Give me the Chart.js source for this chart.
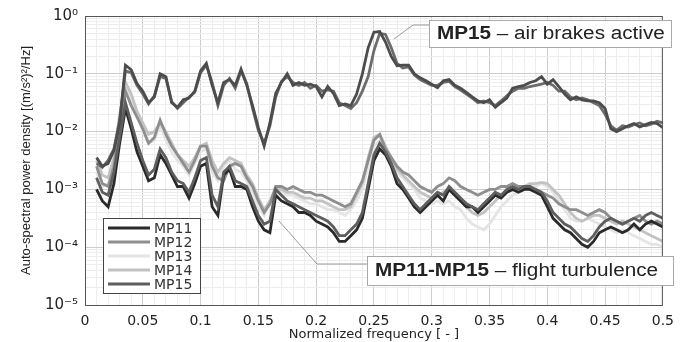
<!DOCTYPE html>
<html>
<head>
<meta charset="utf-8">
<script src="https://cdn.jsdelivr.net/npm/chart.js@4.4.1/dist/chart.umd.min.js"></script>
<style>
  html, body { margin: 0; padding: 0; background: #fff; }
  #wrap { width: 682px; height: 342px; position: relative; }
</style>
</head>
<body>
<div id="wrap"><canvas id="psdChart"></canvas></div>
<script>
// normalized frequency of every sample
const freq = [
  0.010,0.015,0.020,0.025,0.030,0.035,0.040,0.045,0.050,0.055,
  0.060,0.065,0.070,0.075,0.080,0.085,0.090,0.095,0.100,0.105,
  0.110,0.115,0.120,0.125,0.130,0.135,0.140,0.145,0.150,0.155,
  0.160,0.165,0.170,0.175,0.180,0.185,0.190,0.195,0.200,0.205,
  0.210,0.215,0.220,0.225,0.230,0.235,0.240,0.245,0.250,0.255,
  0.260,0.265,0.270,0.275,0.280,0.285,0.290,0.295,0.300,0.305,
  0.310,0.315,0.320,0.325,0.330,0.335,0.340,0.345,0.350,0.355,
  0.360,0.365,0.370,0.375,0.380,0.385,0.390,0.395,0.400,0.405,
  0.410,0.415,0.420,0.425,0.430,0.435,0.440,0.445,0.450,0.455,
  0.460,0.465,0.470,0.475,0.480,0.485,0.490,0.495,0.500
];

// PSD values as log10 exponents
const mp15BrakesLog = [
  -2.45,-2.6,-2.55,-2.33,-1.85,-0.85,-0.93,-1.17,-1.3,-1.5,
  -1.4,-1.0,-1.05,-1.5,-1.58,-1.45,-1.42,-1.3,-0.95,-0.82,
  -1.2,-1.5,-1.15,-1.1,-1.2,-0.92,-1.2,-1.55,-1.93,-2.25,
  -1.85,-1.34,-1.15,-1.0,-1.2,-1.15,-1.2,-1.18,-1.22,-1.4,
  -1.22,-1.34,-1.55,-1.52,-1.55,-1.35,-1.0,-0.55,-0.28,-0.27,
  -0.45,-0.7,-0.86,-0.85,-0.85,-1.0,-1.07,-1.12,-1.18,-1.24,
  -1.12,-1.1,-1.2,-1.25,-1.32,-1.4,-1.47,-1.5,-1.45,-1.58,
  -1.5,-1.42,-1.25,-1.22,-1.2,-1.15,-1.12,-1.05,-1.18,-1.1,
  -1.22,-1.35,-1.45,-1.4,-1.45,-1.47,-1.47,-1.5,-1.6,-1.95,
  -2.0,-1.95,-1.9,-1.86,-1.92,-1.88,-1.84,-1.86,-1.93
];
const mp15BrakesRunBLog = [
  -2.55,-2.62,-2.5,-2.3,-1.8,-0.95,-0.98,-1.2,-1.35,-1.52,
  -1.38,-1.05,-1.08,-1.48,-1.6,-1.5,-1.4,-1.32,-0.98,-0.85,
  -1.15,-1.55,-1.2,-1.08,-1.25,-0.95,-1.17,-1.6,-1.98,-2.2,
  -1.9,-1.4,-1.13,-1.05,-1.15,-1.2,-1.15,-1.25,-1.2,-1.3,
  -1.28,-1.3,-1.5,-1.55,-1.6,-1.5,-1.3,-1.05,-0.6,-0.3,
  -0.32,-0.55,-0.82,-0.9,-0.88,-1.02,-1.1,-1.15,-1.2,-1.2,
  -1.15,-1.13,-1.22,-1.28,-1.35,-1.42,-1.5,-1.47,-1.5,-1.55,
  -1.47,-1.38,-1.3,-1.25,-1.25,-1.22,-1.2,-1.18,-1.15,-1.2,
  -1.3,-1.3,-1.4,-1.45,-1.42,-1.45,-1.5,-1.55,-1.7,-1.9,
  -1.98,-1.9,-1.92,-1.88,-1.85,-1.9,-1.87,-1.82,-1.85
];
const mp11Log = [
  -3.0,-3.2,-3.3,-2.9,-2.2,-1.6,-1.95,-2.35,-2.6,-2.85,
  -2.8,-2.4,-2.55,-2.75,-2.95,-2.95,-3.15,-2.9,-2.6,-2.55,
  -3.3,-3.45,-2.75,-2.65,-2.95,-2.95,-3.0,-3.3,-3.55,-3.7,
  -3.75,-3.1,-3.2,-3.25,-3.3,-3.4,-3.4,-3.45,-3.55,-3.6,
  -3.65,-3.75,-3.9,-3.9,-3.8,-3.7,-3.5,-3.0,-2.5,-2.3,
  -2.4,-2.6,-2.9,-3.0,-3.15,-3.3,-3.4,-3.3,-3.2,-3.1,
  -3.2,-3.0,-3.1,-3.2,-3.3,-3.3,-3.4,-3.3,-3.2,-3.1,
  -3.15,-3.05,-3.0,-3.05,-3.0,-3.0,-3.05,-3.1,-3.3,-3.5,
  -3.6,-3.7,-3.75,-3.85,-3.95,-4.0,-3.9,-3.75,-3.7,-3.65,
  -3.7,-3.75,-3.7,-3.6,-3.7,-3.6,-3.55,-3.6,-3.65
];
const mp12Log = [
  -2.6,-2.9,-2.95,-2.6,-1.9,-1.3,-1.55,-1.75,-1.95,-2.2,
  -2.1,-1.8,-2.05,-2.25,-2.4,-2.55,-2.7,-2.5,-2.25,-2.25,
  -2.6,-2.8,-2.85,-2.6,-2.55,-2.6,-2.8,-2.95,-3.2,-3.4,
  -3.25,-2.95,-2.95,-3.0,-2.95,-3.0,-3.05,-3.05,-3.1,-3.1,
  -3.15,-3.2,-3.25,-3.3,-3.25,-3.05,-2.85,-2.5,-2.15,-2.05,
  -2.3,-2.45,-2.6,-2.7,-2.75,-2.85,-2.95,-3.0,-3.05,-2.95,
  -2.9,-2.8,-2.85,-2.95,-3.0,-3.05,-3.1,-3.05,-3.0,-3.0,
  -2.95,-2.95,-2.9,-2.95,-2.95,-3.0,-3.0,-3.05,-3.1,-3.15,
  -3.25,-3.3,-3.35,-3.35,-3.4,-3.45,-3.4,-3.35,-3.4,-3.5,
  -3.55,-3.6,-3.55,-3.5,-3.45,-3.55,-3.6,-3.55,-3.6
];
const mp13Log = [
  -2.7,-2.95,-2.9,-2.55,-1.8,-1.25,-1.45,-1.7,-2.0,-2.2,
  -2.15,-1.9,-2.15,-2.35,-2.5,-2.6,-2.75,-2.55,-2.35,-2.3,
  -2.7,-2.85,-2.6,-2.5,-2.65,-2.7,-2.85,-3.05,-3.3,-3.45,
  -3.2,-3.05,-3.05,-3.1,-3.1,-3.15,-3.2,-3.25,-3.25,-3.3,
  -3.35,-3.35,-3.4,-3.45,-3.35,-3.2,-3.0,-2.6,-2.25,-2.15,
  -2.35,-2.55,-2.7,-2.8,-2.9,-3.0,-3.15,-3.2,-3.25,-3.2,
  -3.25,-3.2,-3.3,-3.35,-3.5,-3.6,-3.65,-3.7,-3.6,-3.45,
  -3.3,-3.2,-3.1,-3.05,-3.0,-2.95,-2.95,-2.9,-2.95,-3.05,
  -3.2,-3.35,-3.5,-3.55,-3.55,-3.5,-3.55,-3.6,-3.65,-3.7,
  -3.75,-3.7,-3.75,-3.8,-3.85,-3.9,-3.95,-3.95,-4.0
];
const mp14Log = [
  -2.5,-2.75,-2.8,-2.45,-1.7,-1.15,-1.35,-1.65,-1.85,-2.05,
  -2.0,-1.85,-2.0,-2.2,-2.4,-2.5,-2.6,-2.45,-2.25,-2.2,
  -2.5,-2.7,-2.55,-2.45,-2.5,-2.55,-2.75,-2.9,-3.15,-3.35,
  -3.2,-3.0,-3.0,-3.05,-3.05,-3.1,-3.15,-3.15,-3.2,-3.2,
  -3.25,-3.3,-3.35,-3.35,-3.3,-3.1,-2.9,-2.45,-2.1,-2.05,
  -2.25,-2.45,-2.65,-2.75,-2.85,-2.95,-3.05,-3.1,-3.15,-3.1,
  -3.05,-3.0,-3.1,-3.2,-3.3,-3.4,-3.45,-3.4,-3.3,-3.2,
  -3.1,-3.05,-3.0,-2.95,-2.95,-2.9,-2.9,-2.88,-2.9,-3.0,
  -3.1,-3.25,-3.4,-3.5,-3.55,-3.5,-3.45,-3.45,-3.5,-3.55,
  -3.6,-3.55,-3.6,-3.65,-3.7,-3.75,-3.8,-3.85,-3.9
];
const mp15Log = [
  -2.8,-3.05,-3.1,-2.7,-2.1,-1.5,-1.85,-2.2,-2.5,-2.75,
  -2.65,-2.3,-2.45,-2.7,-2.85,-2.9,-3.05,-2.8,-2.5,-2.45,
  -3.1,-3.3,-2.7,-2.6,-2.85,-2.9,-2.95,-3.2,-3.45,-3.6,
  -3.55,-3.0,-3.1,-3.2,-3.25,-3.3,-3.35,-3.4,-3.45,-3.5,
  -3.55,-3.65,-3.8,-3.8,-3.7,-3.6,-3.4,-2.9,-2.4,-2.2,
  -2.35,-2.55,-2.8,-2.95,-3.1,-3.25,-3.35,-3.25,-3.15,-3.05,
  -3.1,-2.95,-3.05,-3.15,-3.25,-3.3,-3.35,-3.25,-3.15,-3.05,
  -3.1,-3.0,-2.95,-3.0,-2.95,-2.95,-3.0,-3.05,-3.2,-3.4,
  -3.5,-3.6,-3.65,-3.75,-3.85,-3.9,-3.8,-3.65,-3.55,-3.5,
  -3.55,-3.6,-3.55,-3.5,-3.55,-3.45,-3.4,-3.45,-3.5
];

const seriesNames = ['MP11', 'MP12', 'MP13', 'MP14', 'MP15'];
const xTickValues = [0, 0.05, 0.1, 0.15, 0.2, 0.25, 0.3, 0.35, 0.4, 0.45, 0.5];
const xTickLabels = ['0', '0.05', '0.1', '0.15', '0.2', '0.25', '0.3', '0.35', '0.4', '0.45', '0.5'];
const yDecades = [1e-5, 1e-4, 1e-3, 1e-2, 1e-1, 1];
const yTickLabels = ['10\u207B\u2075', '10\u207B\u2074', '10\u207B\u00B3', '10\u207B\u00B2', '10\u207B\u00B9', '10\u2070'];

const toPoints = (logs) => logs.map((v, i) => ({ x: freq[i], y: Math.pow(10, v) }));

const lineDefaults = { borderWidth: 2.8, pointRadius: 0, tension: 0, fill: false };

const datasets = [
  { label: 'MP15 brakes', data: toPoints(mp15BrakesLog), borderColor: '#4c4c4c', ...lineDefaults },
  { label: 'MP15 brakes b', data: toPoints(mp15BrakesRunBLog), borderColor: '#6c6c6c', ...lineDefaults },
  { label: 'MP15', data: toPoints(mp15Log), borderColor: '#5e5e5e', ...lineDefaults },
  { label: 'MP11', data: toPoints(mp11Log), borderColor: '#2a2a2a', ...lineDefaults },
  { label: 'MP12', data: toPoints(mp12Log), borderColor: '#8e8e8e', ...lineDefaults },
  { label: 'MP14', data: toPoints(mp14Log), borderColor: '#c2c2c2', ...lineDefaults },
  { label: 'MP13', data: toPoints(mp13Log), borderColor: '#e4e4e4', ...lineDefaults },
];
const legendColors = { MP11: '#2a2a2a', MP12: '#8e8e8e', MP13: '#e4e4e4', MP14: '#c2c2c2', MP15: '#5e5e5e' };

// box around the plot, legend and the two callouts
const decorations = {
  id: 'decorations',
  afterDatasetsDraw(chart) {
    const { ctx, chartArea: a } = chart;
    ctx.save();
    ctx.strokeStyle = '#555';
    ctx.lineWidth = 1;
    ctx.strokeRect(a.left + 0.5, a.top + 0.5, a.right - a.left - 1, a.bottom - a.top);
    ctx.restore();
  },
  afterDraw(chart) {
    const ctx = chart.ctx;
    ctx.save();

    // legend
    ctx.fillStyle = '#fff';
    ctx.fillRect(103, 218, 97, 75);
    ctx.strokeStyle = '#444';
    ctx.lineWidth = 1;
    ctx.strokeRect(103.5, 218.5, 97, 75);
    ctx.font = '14px "DejaVu Sans"';
    ctx.textBaseline = 'middle';
    seriesNames.forEach((name, i) => {
      const y = 228 + i * 14;
      ctx.strokeStyle = legendColors[name];
      ctx.lineWidth = 3;
      ctx.beginPath();
      ctx.moveTo(108, y);
      ctx.lineTo(150, y);
      ctx.stroke();
      ctx.fillStyle = '#333';
      ctx.fillText(name, 154, y + 1);
    });

    // callouts
    const callout = (box, leader, bold, rest) => {
      ctx.strokeStyle = '#999';
      ctx.lineWidth = 1;
      ctx.beginPath();
      ctx.moveTo(leader[0][0], leader[0][1]);
      leader.slice(1).forEach(p => ctx.lineTo(p[0], p[1]));
      ctx.stroke();
      ctx.fillStyle = '#fff';
      ctx.fillRect(box[0], box[1], box[2], box[3]);
      ctx.strokeStyle = '#aaa';
      ctx.strokeRect(box[0] + 0.5, box[1] + 0.5, box[2], box[3]);
      ctx.save();
      ctx.translate(box[0] + 8, box[1] + box[3] / 2 + 1);
      ctx.scale(1.15, 1);
      ctx.fillStyle = '#222';
      ctx.textBaseline = 'middle';
      ctx.font = 'bold 18px "Liberation Sans"';
      ctx.fillText(bold, 0, 0);
      const w = ctx.measureText(bold).width;
      ctx.font = '18px "Liberation Sans"';
      ctx.fillText(rest, w, 0);
      ctx.restore();
    };
    callout([429, 20, 242, 27], [[429, 25], [413, 25], [394, 39]], 'MP15', ' \u2013 air brakes active');
    callout([367, 256, 306, 29], [[367, 264], [317, 264], [279, 221]], 'MP11-MP15', ' \u2013 flight turbulence');

    ctx.restore();
  }
};

const isDecade = (v) => {
  const l = Math.log10(v);
  return Math.abs(l - Math.round(l)) < 1e-6;
};

new Chart(document.getElementById('psdChart'), {
  type: 'line',
  data: { datasets },
  options: {
    responsive: true,
    maintainAspectRatio: false,
    animation: false,
    layout: { padding: { left: 0, right: 5, top: 15, bottom: 0 } },
    plugins: {
      legend: { display: false },
      tooltip: { enabled: false },
    },
    scales: {
      x: {
        type: 'linear',
        min: 0,
        max: 0.5,
        afterBuildTicks: (scale) => {
          const ticks = [];
          for (let i = 0; i <= 50; i++) ticks.push({ value: i / 100 });
          scale.ticks = ticks;
        },
        afterFit: (scale) => { scale.height = 37; },
        grid: {
          drawTicks: false,
          color: (c) => (Math.round(c.tick.value * 100) % 5 === 0 ? '#cdcdcd' : '#ededed'),
        },
        border: { display: false },
        ticks: {
          autoSkip: false,
          maxRotation: 0,
          padding: 8,
          color: '#222',
          font: { family: '"DejaVu Sans"', size: 14 },
          callback: (v) => {
            const k = Math.round(v * 100);
            return k % 5 === 0 ? xTickLabels[xTickValues.indexOf(k / 100)] : '';
          },
        },
        title: {
          display: true,
          text: 'Normalized frequency [ - ]',
          color: '#222',
          font: { family: '"DejaVu Sans"', size: 13 },
          padding: { top: 0, bottom: 0 },
        },
      },
      y: {
        type: 'logarithmic',
        min: 1e-5,
        max: 1,
        afterBuildTicks: (scale) => {
          const ticks = [];
          yDecades.forEach((d, i) => {
            if (i === yDecades.length - 1) { ticks.push({ value: d }); return; }
            for (let m = 1; m <= 9; m++) ticks.push({ value: m * d });
          });
          scale.ticks = ticks;
        },
        afterFit: (scale) => { scale.width = 85; },
        grid: {
          drawTicks: false,
          color: (c) => (isDecade(c.tick.value) ? '#cdcdcd' : '#ededed'),
        },
        border: { display: false },
        ticks: {
          autoSkip: false,
          padding: 7,
          color: '#222',
          font: { family: '"DejaVu Sans"', size: 15 },
          callback: (v) => (isDecade(v) ? yTickLabels[Math.round(Math.log10(v)) + 5] : ''),
        },
        title: {
          display: true,
          text: 'Auto-spectral power density [(m/s\u00B2)\u00B2/Hz]',
          color: '#222',
          font: { family: '"Liberation Sans"', size: 13 },
          padding: { top: 19, bottom: 0 },
        },
      },
    },
  },
  plugins: [decorations],
});
</script>
</body>
</html>
